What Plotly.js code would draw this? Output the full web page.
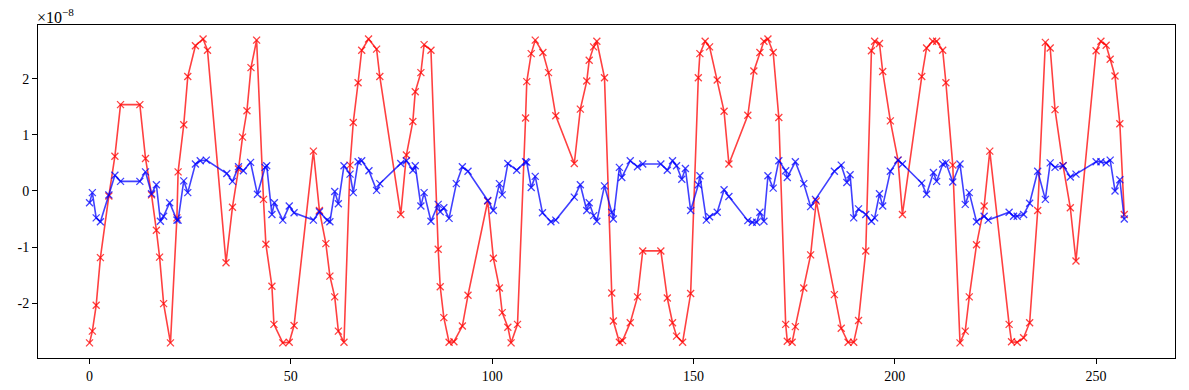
<!DOCTYPE html>
<html>
<head>
<meta charset="utf-8">
<script src="https://cdn.plot.ly/plotly-3.0.1.min.js"></script>
<style>html,body{margin:0;padding:0;background:#fff;}#chart{width:1189px;height:390px;}</style>
</head>
<body>
<div id="chart"></div>
<script>
// values in units of 1e-8
const redX = [0.0,0.7,1.65,2.7,4.8,6.3,7.7,12.5,13.9,15.4,16.6,17.4,18.4,20.1,21.7,22.0,23.4,24.4,26.3,28.2,29.3,33.9,35.5,37.0,38.0,39.1,40.1,41.5,43.2,43.8,45.3,45.8,48.0,49.6,50.8,55.6,57.1,58.7,59.7,60.9,61.8,63.2,64.7,65.5,66.7,67.6,69.3,71.3,72.1,77.3,78.7,80.3,80.9,82.3,83.1,84.8,86.6,87.1,88.0,89.3,90.5,92.6,94.0,98.9,100.3,101.8,102.5,103.9,104.7,106.3,108.3,108.6,109.7,110.7,112.6,114.0,115.8,120.4,121.9,123.5,124.1,125.2,126.0,127.9,129.7,130.1,131.6,132.4,134.3,136.1,137.4,141.9,143.5,144.8,145.8,147.3,149.3,151.2,151.6,152.9,154.0,155.9,157.6,158.8,163.5,165.0,166.5,167.5,168.5,169.8,171.2,172.9,173.3,174.5,175.3,177.4,179.1,180.5,185.0,186.7,188.4,189.8,191.0,192.8,194.2,195.0,196.2,197.0,198.9,200.8,201.9,206.7,207.9,209.4,210.4,211.9,212.7,214.4,216.2,217.5,218.5,220.3,222.2,223.6,228.4,229.0,230.4,232.0,233.5,235.5,237.4,238.6,239.8,241.8,243.6,245.0,250.0,251.2,252.5,253.5,254.7,255.9,257.0];
const redY = [-2.71,-2.50,-2.04,-1.19,-0.09,0.62,1.54,1.54,0.58,-0.07,-0.70,-1.18,-2.01,-2.71,-0.48,0.34,1.18,2.04,2.59,2.71,2.51,-1.28,-0.29,0.39,0.96,1.43,2.20,2.69,-0.15,-0.95,-1.70,-2.38,-2.71,-2.70,-2.40,0.71,-0.35,-0.94,-1.52,-1.89,-2.50,-2.70,0.46,1.22,1.93,2.51,2.71,2.53,2.04,-0.42,0.64,1.24,1.77,2.11,2.61,2.51,-1.04,-1.71,-2.26,-2.70,-2.69,-2.41,-1.86,-0.18,-1.20,-1.73,-2.17,-2.43,-2.71,-2.38,1.30,1.95,2.45,2.69,2.47,2.11,1.34,0.49,1.46,1.96,2.33,2.57,2.67,2.02,-1.82,-2.32,-2.70,-2.67,-2.35,-1.89,-1.07,-1.07,-1.91,-2.35,-2.59,-2.70,-1.83,2.02,2.45,2.67,2.57,1.98,1.42,0.48,1.35,2.14,2.47,2.67,2.71,2.47,1.31,-2.38,-2.68,-2.70,-2.42,-1.73,-1.14,-0.18,-1.85,-2.45,-2.70,-2.70,-2.31,-1.07,2.50,2.67,2.63,2.13,1.25,0.55,-0.42,2.04,2.55,2.67,2.67,2.51,1.93,0.46,-2.71,-2.50,-1.89,-0.96,-0.27,0.71,-2.38,-2.69,-2.70,-2.62,-2.35,-0.35,2.65,2.55,1.45,0.45,-0.30,-1.25,2.50,2.67,2.60,2.35,2.05,1.20,-0.42];
const blueX = [0.0,0.7,1.65,2.7,4.8,6.3,7.7,12.5,13.9,15.4,16.6,17.6,18.4,19.9,21.7,22.0,23.4,24.4,26.3,27.5,29.0,34.1,35.5,37.0,38.2,40.0,41.7,43.6,44.0,45.3,45.9,48.0,49.6,50.8,55.6,57.1,59.0,59.7,60.9,61.8,63.2,64.7,65.5,66.7,67.6,69.4,71.3,72.1,77.3,78.7,80.3,80.9,82.3,83.1,84.8,86.6,87.1,88.0,89.3,91.1,92.6,94.0,98.9,100.3,101.8,102.5,103.9,106.1,108.3,108.6,109.7,110.7,112.5,114.6,115.8,120.4,121.9,123.5,124.1,125.2,126.0,127.9,129.7,130.1,131.6,132.2,134.3,136.1,137.4,141.9,143.5,144.8,145.8,147.1,148.0,149.3,151.2,151.6,153.2,154.0,155.9,157.6,158.8,163.5,164.6,165.7,166.5,167.5,168.5,169.8,171.2,172.9,173.3,175.3,177.4,179.1,180.3,185.0,186.7,188.1,188.9,189.8,191.0,192.8,194.2,195.0,196.2,197.0,198.9,200.8,201.9,206.7,207.9,209.6,210.4,211.9,212.7,214.4,216.2,217.5,218.5,220.3,222.2,223.2,228.4,229.5,230.4,232.0,233.5,235.5,237.4,238.6,239.8,241.8,243.6,245.0,250.0,251.2,252.5,253.5,254.7,255.9,257.0];
const blueY = [-0.21,-0.03,-0.48,-0.55,-0.07,0.28,0.17,0.17,0.34,-0.05,0.11,-0.54,-0.45,-0.21,-0.52,-0.52,0.18,-0.03,0.48,0.54,0.55,0.31,0.17,0.43,0.36,0.51,-0.06,0.42,0.45,-0.42,-0.21,-0.52,-0.27,-0.39,-0.52,-0.37,-0.52,-0.55,-0.01,-0.23,0.45,0.30,-0.03,0.52,0.54,0.36,0.01,0.13,0.49,0.54,0.37,0.45,-0.27,-0.03,-0.54,-0.24,-0.37,-0.30,-0.49,0.13,0.43,0.35,-0.17,-0.35,0.13,-0.07,0.49,0.37,0.52,0.51,0.06,0.26,-0.39,-0.55,-0.52,-0.11,0.11,-0.35,-0.21,-0.44,-0.54,0.09,-0.38,-0.50,0.42,0.24,0.54,0.43,0.48,0.48,0.37,0.54,0.45,0.21,0.40,-0.35,0.11,0.27,-0.52,-0.46,-0.38,0.02,-0.10,-0.53,-0.56,-0.56,-0.38,-0.54,0.27,0.05,0.54,0.36,0.24,0.52,0.13,-0.28,-0.15,0.35,0.46,0.15,0.29,-0.48,-0.32,-0.42,-0.54,-0.48,-0.05,-0.27,0.35,0.55,0.48,0.14,-0.06,0.33,0.17,0.48,0.50,0.16,0.48,-0.24,-0.03,-0.55,-0.45,-0.52,-0.38,-0.45,-0.45,-0.42,-0.22,0.35,-0.15,0.50,0.42,0.45,0.25,0.30,0.52,0.52,0.50,0.55,0.00,0.20,-0.50];
const xTicks = [0,50,100,150,200,250];
const yTicks = [-2,-1,0,1,2];
const exponentLabel = '×10<sup>−8</sup>';

const font = {family: '"Liberation Serif", "DejaVu Serif", serif', size: 14, color: '#000'};
const traces = [
  {x: redX, y: redY, mode: 'lines+markers', line: {color: 'rgba(255,0,0,0.75)', width: 1.6},
   marker: {symbol: 'x-thin-open', size: 7, color: 'rgba(255,0,0,0.75)', line: {width: 1.3, color: 'rgba(255,0,0,0.75)'}}, showlegend: false},
  {x: blueX, y: blueY, mode: 'lines+markers', line: {color: 'rgba(0,0,255,0.75)', width: 1.6},
   marker: {symbol: 'x-thin-open', size: 7, color: 'rgba(0,0,255,0.75)', line: {width: 1.3, color: 'rgba(0,0,255,0.75)'}}, showlegend: false}
];
const axisCommon = {showgrid: false, zeroline: false, showline: true, linecolor: '#000', linewidth: 1,
  mirror: true, ticks: 'outside', ticklen: 5, tickwidth: 1, tickcolor: '#000', tickfont: font};
const layout = {
  width: 1189, height: 390,
  margin: {l: 38, r: 14, t: 25, b: 32},
  paper_bgcolor: '#fff', plot_bgcolor: '#fff', font: font,
  xaxis: Object.assign({}, axisCommon, {range: [-12.8, 269.6], tickvals: xTicks, ticktext: xTicks.map(String)}),
  yaxis: Object.assign({}, axisCommon, {range: [-2.98, 2.96], tickvals: yTicks, ticktext: yTicks.map(String)}),
  annotations: [{xref: 'paper', yref: 'paper', x: 0, y: 1, xanchor: 'left', yanchor: 'bottom', showarrow: false,
    text: exponentLabel, font: {family: font.family, size: 16, color: '#000'}, yshift: -3, xshift: -3}]
};
Plotly.newPlot('chart', traces, layout, {displayModeBar: false, staticPlot: true});
</script>
</body>
</html>
